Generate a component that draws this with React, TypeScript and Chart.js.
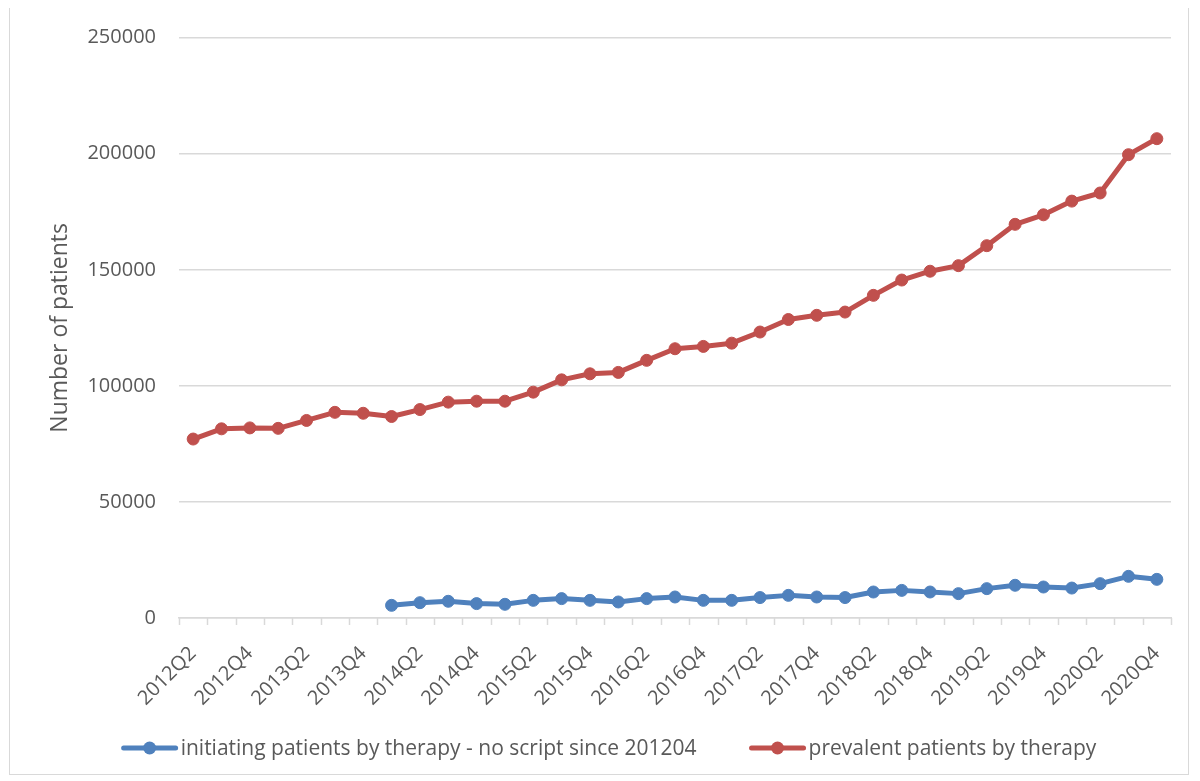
import React, { useEffect, useRef } from "react";
import { Chart, registerables } from "chart.js";

Chart.register(...registerables);

const quarters = [
  "2012Q2", "2012Q3", "2012Q4",
  "2013Q1", "2013Q2", "2013Q3", "2013Q4",
  "2014Q1", "2014Q2", "2014Q3", "2014Q4",
  "2015Q1", "2015Q2", "2015Q3", "2015Q4",
  "2016Q1", "2016Q2", "2016Q3", "2016Q4",
  "2017Q1", "2017Q2", "2017Q3", "2017Q4",
  "2018Q1", "2018Q2", "2018Q3", "2018Q4",
  "2019Q1", "2019Q2", "2019Q3", "2019Q4",
  "2020Q1", "2020Q2", "2020Q3", "2020Q4",
];

const initiating: (number | null)[] = [
  null, null, null, null, null, null, null,
  5450, 6600, 7200, 6200, 5900, 7600, 8350, 7600,
  6900, 8350, 9050, 7600, 7600, 8800, 9750, 9050,
  8800, 11200, 11900, 11200, 10500, 12650, 14100, 13350,
  12900, 14800, 17950, 16650,
];

const prevalent = [
  77100, 81500, 81900, 81700, 85100, 88600, 88200,
  86800, 89800, 93000, 93400, 93400, 97300, 102600, 105200,
  105800, 111000, 116000, 117000, 118400, 123200, 128600, 130400,
  131800, 139000, 145600, 149400, 151800, 160400, 169600, 173700,
  179600, 183100, 199600, 206500,
];

const seriesNames = [
  "initiating patients by therapy - no script since 201204",
  "prevalent patients by therapy",
];
const seriesColors = ["#4f81bd", "#c0504d"];

const yTicks = [0, 50000, 100000, 150000, 200000, 250000];

const FONT = "'Open Sans', 'Noto Sans', sans-serif";
const TEXT = "#595959";
const GRID = "#d9d9d9";

const tickMarkPlugin = {
  id: "catTickMarks",
  afterDraw(chart: any) {
    const sx = chart.scales.x;
    const n = chart.data.labels.length;
    const w = (sx.right - sx.left) / n;
    const ctx = chart.ctx as CanvasRenderingContext2D;
    ctx.save();
    ctx.strokeStyle = GRID;
    ctx.lineWidth = 1.5;
    ctx.beginPath();
    for (let i = 0; i <= n; i++) {
      const x = Math.round(sx.left + i * w) + 0.5;
      ctx.moveTo(x, sx.top);
      ctx.lineTo(x, sx.top + 7);
    }
    ctx.stroke();
    ctx.restore();
  },
};

const legendPlugin = {
  id: "excelLegend",
  afterDraw(chart: any) {
    const ctx = chart.ctx as CanvasRenderingContext2D;
    const lineLen = 56;
    const gapText = 3;
    const gapItem = 53;
    const y = 740;
    ctx.save();
    ctx.font = `21px ${FONT}`;
    const items = chart.data.datasets.map((ds: any) => ({
      text: ds.label as string,
      color: ds.borderColor as string,
      w: ctx.measureText(ds.label).width,
    }));
    const total =
      items.reduce((s: number, it: any) => s + lineLen + gapText + it.w, 0) +
      gapItem * (items.length - 1);
    let x = chart.width / 2 + 10 - total / 2;
    for (const it of items) {
      ctx.strokeStyle = it.color;
      ctx.lineWidth = 5;
      ctx.lineCap = "round";
      ctx.beginPath();
      ctx.moveTo(x + 2, y);
      ctx.lineTo(x + lineLen - 2, y);
      ctx.stroke();
      ctx.fillStyle = it.color;
      ctx.beginPath();
      ctx.arc(x + lineLen / 2, y, 6.5, 0, Math.PI * 2);
      ctx.fill();
      ctx.fillStyle = TEXT;
      ctx.textAlign = "left";
      ctx.textBaseline = "middle";
      ctx.fillText(it.text, x + lineLen + gapText, y + 1);
      x += lineLen + gapText + it.w + gapItem;
    }
    ctx.restore();
  },
};

export default function App() {
  const canvasRef = useRef<HTMLCanvasElement | null>(null);

  useEffect(() => {
    let chart: Chart | null = null;
    let cancelled = false;
    const build = () => {
      if (cancelled || !canvasRef.current) return;
      chart = new Chart(canvasRef.current, {
        type: "line",
        data: {
          labels: quarters,
          datasets: [
            {
              label: seriesNames[0],
              data: initiating,
              borderColor: seriesColors[0],
              backgroundColor: seriesColors[0],
              borderWidth: 5,
              pointRadius: 6,
              pointBorderWidth: 1,
              pointBackgroundColor: seriesColors[0],
              pointBorderColor: seriesColors[0],
              borderJoinStyle: "round",
              tension: 0,
            },
            {
              label: seriesNames[1],
              data: prevalent,
              borderColor: seriesColors[1],
              backgroundColor: seriesColors[1],
              borderWidth: 5,
              pointRadius: 6,
              pointBorderWidth: 1,
              pointBackgroundColor: seriesColors[1],
              pointBorderColor: seriesColors[1],
              borderJoinStyle: "round",
              tension: 0,
            },
          ],
        },
        options: {
          responsive: true,
          maintainAspectRatio: false,
          animation: false,
          layout: { padding: { left: 34, right: 17, top: 29.7, bottom: 56 } },
          plugins: {
            legend: { display: false },
            tooltip: { enabled: false },
          },
          scales: {
            x: {
              type: "category",
              offset: true,
              grid: {
                display: false,
                offset: true,
                drawOnChartArea: false,
                drawTicks: false,
              },
              border: { display: true, color: GRID, width: 1.5 },
              ticks: {
                autoSkip: false,
                maxRotation: 45,
                minRotation: 45,
                padding: 24,
                color: TEXT,
                font: { family: FONT, size: 20 },
                callback: (_v: any, i: number) => (i % 2 === 0 ? quarters[i] : ""),
              },
              afterFit: (scale: any) => {
                scale.height = 100;
                scale.paddingLeft = 0;
                scale.paddingRight = 0;
              },
            },
            y: {
              min: yTicks[0],
              max: yTicks[yTicks.length - 1],
              afterBuildTicks: (scale: any) => {
                scale.ticks = yTicks.map((v) => ({ value: v }));
              },
              grid: { color: GRID, lineWidth: 1.5, drawTicks: false },
              border: { display: false },
              ticks: {
                padding: 23,
                color: TEXT,
                font: { family: FONT, size: 20 },
                callback: (v: any) => String(v),
              },
              title: {
                display: true,
                text: "Number of patients",
                color: TEXT,
                font: { family: FONT, size: 23 },
                padding: { top: 3, bottom: 4 },
              },
              afterFit: (scale: any) => {
                scale.width = 135;
                scale.paddingTop = 0;
                scale.paddingBottom = 0;
              },
            },
          },
        },
        plugins: [tickMarkPlugin, legendPlugin],
      });
    };
    const fontsReady = (document as any).fonts
      ? Promise.all([
          (document as any).fonts.load(`20px 'Open Sans'`),
          (document as any).fonts.load(`23px 'Open Sans'`),
        ]).catch(() => undefined)
      : Promise.resolve();
    fontsReady.then(build);
    return () => {
      cancelled = true;
      if (chart) chart.destroy();
    };
  }, []);

  return (
    <div
      style={{
        width: 1178,
        height: 766,
        marginLeft: 1,
        marginTop: -1,
        border: `1px solid ${GRID}`,
        position: "relative",
        background: "#ffffff",
      }}
    >
      <canvas ref={canvasRef} />
    </div>
  );
}
